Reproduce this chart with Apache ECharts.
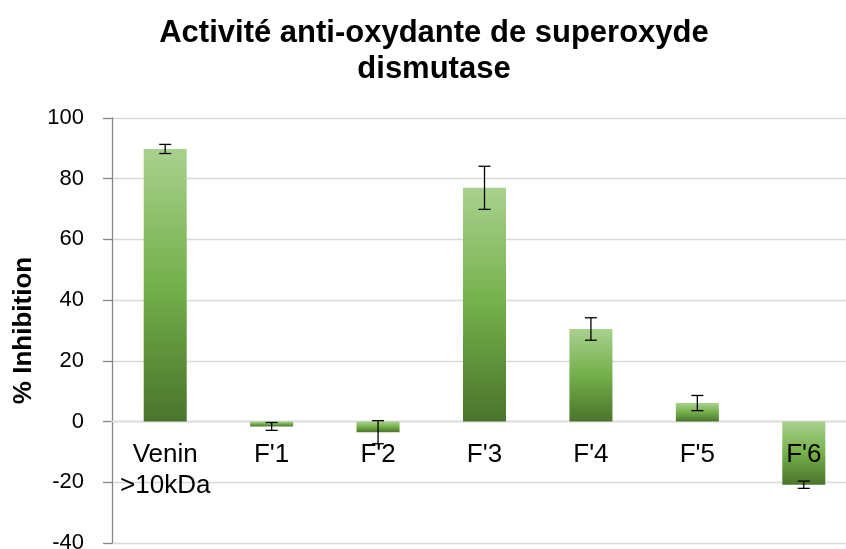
<!DOCTYPE html>
<html>
<head>
<meta charset="utf-8">
<script src="https://cdn.jsdelivr.net/npm/echarts@6/dist/echarts.min.js"></script>
<style>
  html, body { margin: 0; padding: 0; background: #fff; }
  #chart { width: 846px; height: 549px; }
</style>
</head>
<body>
<div id="chart"></div>
<script>
// SOD anti-oxidant activity: mean % inhibition per fraction, with error margins
const categories = ['Venin\n>10kDa', "F'1", "F'2", "F'3", "F'4", "F'5", "F'6"];
const inhibition = [89.8, -1.6, -3.5, 77.0, 30.5, 6.1, -20.8];
const errorMargin = [1.5, 1.3, 3.8, 7.1, 3.7, 2.5, 1.2];
const yTicks = [-40, -20, 0, 20, 40, 60, 80, 100];

const FONT = 'Liberation Sans, Arial, sans-serif';

const chart = echarts.init(document.getElementById('chart'), null, { renderer: 'canvas' });

const barGradient = new echarts.graphic.LinearGradient(0, 0, 0, 1, [
  { offset: 0, color: '#a9d18e' },
  { offset: 0.5, color: '#74b04a' },
  { offset: 1, color: '#4a742c' }
]);

const errorData = inhibition.map((v, i) => [i, v - errorMargin[i], v + errorMargin[i]]);
// category names sit just under the zero line
const labelAnchors = categories.map((c, i) => ({ value: [i, 0], name: c }));

chart.setOption({
  animation: false,
  backgroundColor: '#ffffff',
  title: {
    text: 'Activité anti-oxydante de superoxyde\ndismutase',
    left: 429,
    top: 10,
    textAlign: 'center',
    textStyle: {
      fontFamily: FONT,
      fontWeight: 'bold',
      fontSize: 31,
      lineHeight: 36,
      color: '#000'
    }
  },
  grid: {
    left: 112,
    top: 118,
    width: 745,
    height: 425,
    containLabel: false,
    outerBoundsMode: 'none'
  },
  xAxis: {
    type: 'category',
    data: categories,
    axisLine: { show: true, onZero: true, lineStyle: { color: '#d9d9d9', width: 1.3 } },
    axisTick: { show: false },
    axisLabel: { show: false },
    splitLine: { show: false },
    z: 1
  },
  yAxis: {
    type: 'value',
    min: yTicks[0],
    max: yTicks[yTicks.length - 1],
    interval: 20,
    name: '% Inhibition',
    nameLocation: 'middle',
    nameRotate: 90,
    nameGap: 74,
    nameTextStyle: {
      fontFamily: FONT,
      fontWeight: 'bold',
      fontSize: 26,
      color: '#000'
    },
    axisLine: { show: true, lineStyle: { color: '#868686', width: 1.3 } },
    axisTick: { show: true, inside: false, length: 9, lineStyle: { color: '#868686', width: 1.3 } },
    axisLabel: {
      fontFamily: FONT,
      fontSize: 22,
      color: '#000',
      margin: 28
    },
    splitLine: { show: true, lineStyle: { color: '#d9d9d9', width: 1.3 } }
  },
  series: [
    {
      type: 'bar',
      data: inhibition,
      barWidth: 43,
      itemStyle: { color: barGradient },
      z: 2
    },
    {
      type: 'custom',
      data: errorData,
      z: 5,
      renderItem: function (params, api) {
        const x = api.value(0);
        const lo = api.coord([x, api.value(1)]);
        const hi = api.coord([x, api.value(2)]);
        const half = 6;
        const style = { stroke: '#000', lineWidth: 1.3, fill: null };
        return {
          type: 'group',
          children: [
            { type: 'line', shape: { x1: hi[0], y1: hi[1], x2: lo[0], y2: lo[1] }, style },
            { type: 'line', shape: { x1: hi[0] - half, y1: hi[1], x2: hi[0] + half, y2: hi[1] }, style },
            { type: 'line', shape: { x1: lo[0] - half, y1: lo[1], x2: lo[0] + half, y2: lo[1] }, style }
          ]
        };
      }
    },
    {
      type: 'scatter',
      data: labelAnchors,
      symbolSize: 0,
      silent: true,
      z: 4,
      itemStyle: { opacity: 1 },
      label: {
        show: true,
        position: 'bottom',
        distance: 18,
        formatter: p => p.name,
        fontFamily: FONT,
        fontSize: 26,
        lineHeight: 31,
        color: '#000',
        opacity: 1,
        align: 'center',
        verticalAlign: 'top'
      }
    }
  ]
});
</script>
</body>
</html>
